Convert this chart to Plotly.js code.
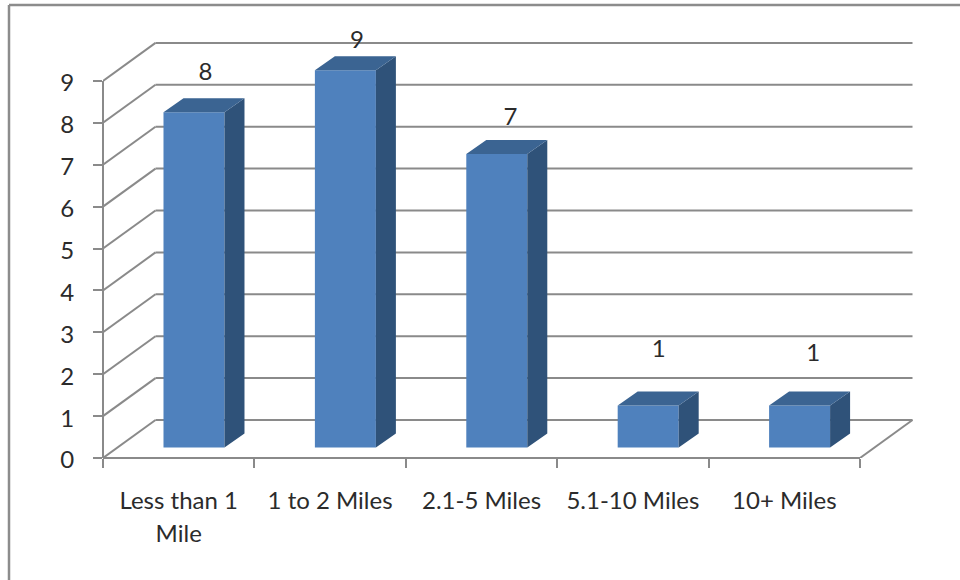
<!DOCTYPE html>
<html>
<head>
<meta charset="utf-8">
<script src="https://cdn.plot.ly/plotly-3.0.1.min.js"></script>
<style>
  html, body { margin: 0; padding: 0; background: #fff; }
  #chart { width: 960px; height: 580px; }
</style>
</head>
<body>
<div id="chart"></div>
<script>
// Commute distance counts, drawn as a pseudo-3D column chart
const categories = ["Less than 1<br>Mile", "1 to 2 Miles", "2.1-5 Miles", "5.1-10 Miles", "10+ Miles"];
const values = [8, 9, 7, 1, 1];
const valueTicks = [0, 1, 2, 3, 4, 5, 6, 7, 8, 9];

// Hand-placed data labels, relative to the top front edge of each column
const labelShiftX = [0.076, 0.076, 0.09, 0.07, 0.09];
const labelLift = [0.9, 0.68, 0.83, 1.29, 1.21];

// Pixel scale of the plot frame
const W = 960, H = 580;
const pxLeft = 103, pxBottom = 458, pxRight = 930, pxTop = 30;
const pxPerCat = 151.4, pxPerUnit = 41.9;
const xMax = (pxRight - pxLeft) / pxPerCat;
const yMax = (pxBottom - pxTop) / pxPerUnit;

// Depth of the chart box and of each column, in axis units
const wallDx = 52.5 / pxPerCat, wallDy = 38 / pxPerUnit;
const barDx = 20 / pxPerCat, barDy = 14 / pxPerUnit;
const barWidth = 61 / pxPerCat, barBase = 10.6 / pxPerUnit, barShift = 0.101;

const axisGrey = "#8a8a8a", textColor = "#2b2b2b";
const labelSize = 24;
const nCat = categories.length;

const seg = (x0, y0, x1, y1) => ({
  type: "line", xref: "x", yref: "y", layer: "below", x0, y0, x1, y1,
  line: { color: axisGrey, width: 2 }
});

const shapes = [];
valueTicks.forEach(v => {
  shapes.push(seg(0, v, wallDx, v + wallDy));
  shapes.push(seg(wallDx, v + wallDy, nCat + wallDx, v + wallDy));
});
shapes.push(seg(nCat, 0, nCat + wallDx, wallDy));
// Value axis stops at the top tick instead of running up the frame
shapes.push({ type: "line", xref: "paper", yref: "y", x0: 0, x1: 0, y0: 0, y1: valueTicks[valueTicks.length - 1],
  line: { color: axisGrey, width: 2 } });
// Category axis stops at the front corner of the floor
shapes.push({ type: "line", xref: "x", yref: "paper", x0: 0, x1: nCat, y0: 0, y1: 0,
  line: { color: axisGrey, width: 2 } });
// Outer chart-area border: left and top edges only
const paperX = px => (px - pxLeft) / (pxRight - pxLeft);
const paperY = px => (pxBottom - px) / (pxBottom - pxTop);
const borderGrey = "#8c8c8c";
shapes.push({ type: "line", xref: "paper", yref: "paper", x0: paperX(9), x1: paperX(9), y0: paperY(5), y1: paperY(H),
  line: { color: borderGrey, width: 2.5 } });
shapes.push({ type: "line", xref: "paper", yref: "paper", x0: paperX(9), x1: paperX(W), y0: paperY(5), y1: paperY(5),
  line: { color: borderGrey, width: 2.5 } });

const centers = categories.map((_, i) => i + 0.5);
const barX = centers.map(c => c + barShift);

// Side and top faces of all columns, null-separated polygons
const sideX = [], sideY = [], topX = [], topY = [];
values.forEach((v, i) => {
  const l = barX[i] - barWidth / 2, r = barX[i] + barWidth / 2;
  const yb = barBase, yt = barBase + v;
  sideX.push(r, r + barDx, r + barDx, r, r, null);
  sideY.push(yb, yb + barDy, yt + barDy, yt, yb, null);
  topX.push(l, l + barDx, r + barDx, r, l, null);
  topY.push(yt, yt + barDy, yt + barDy, yt, yt, null);
});

const traces = [
  { type: "bar", x: barX, y: values, base: values.map(() => barBase), width: barWidth,
    marker: { color: "#4f81bd", line: { width: 0 } } },
  { type: "scatter", mode: "lines", x: sideX, y: sideY, fill: "toself", fillcolor: "#2f5279",
    line: { width: 0 } },
  { type: "scatter", mode: "lines", x: topX, y: topY, fill: "toself", fillcolor: "#3b6492",
    line: { width: 0 } },
  { type: "scatter", mode: "text", cliponaxis: false,
    x: barX.map((x, i) => x + labelShiftX[i]),
    y: values.map((v, i) => v + barBase + labelLift[i]),
    text: values.map(String), textposition: "middle center",
    textfont: { family: "Lato, sans-serif", size: labelSize, color: textColor } }
];

const span = s => '<span style="font-size:' + labelSize + 'px">' + s + '</span>';

const layout = {
  width: W, height: H, showlegend: false, hovermode: false,
  paper_bgcolor: "#ffffff", plot_bgcolor: "#ffffff",
  margin: { l: pxLeft, r: W - pxRight, t: pxTop, b: H - pxBottom, pad: 0 },
  xaxis: {
    range: [0, xMax], showgrid: false, zeroline: false,
    showline: false, tickmode: "array", tickvals: centers,
    // Outer size sets the 1.3em line pitch of the two-line label; the inner span sets the glyph size
    ticktext: categories.map(c => c.split("<br>").map(span).join("<br>")),
    ticks: "", ticklabelstandoff: 25,
    tickfont: { family: "Lato, sans-serif", size: 25, color: textColor },
    minor: { tickmode: "array", tickvals: [0, 1, 2, 3, 4, 5], ticks: "outside", ticklen: 9, tickwidth: 2, tickcolor: axisGrey, showgrid: false }
  },
  yaxis: {
    range: [0, yMax], showgrid: false, zeroline: false, showline: false,
    tickmode: "array", tickvals: valueTicks, ticktext: valueTicks.map(String),
    ticks: "outside", ticklen: 9, tickwidth: 2, tickcolor: axisGrey,
    ticklabelstandoff: 14, ticklabelshift: 2,
    tickfont: { family: "Lato, sans-serif", size: labelSize, color: textColor }
  },
  shapes
};

Plotly.newPlot("chart", traces, layout, { displayModeBar: false, staticPlot: true });
</script>
</body>
</html>
